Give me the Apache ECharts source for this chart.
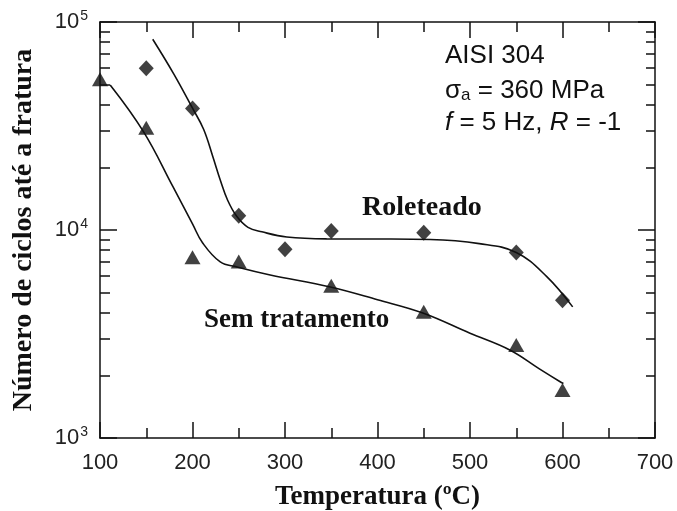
<!DOCTYPE html>
<html>
<head>
<meta charset="utf-8">
<script src="https://cdn.jsdelivr.net/npm/echarts@6/dist/echarts.min.js"></script>
<style>
  html, body { margin: 0; padding: 0; background: #fff; }
  #chart { width: 677px; height: 511px; }
</style>
</head>
<body>
<div id="chart"></div>
<script>
// pontos medidos
const roleteadoX = [150, 200, 250, 300, 350, 450, 550, 600]
const roleteadoY = [60000, 38400, 11700, 8080, 9900, 9700, 7800, 4600]
const semTratX = [100, 150, 200, 250, 350, 450, 550, 600]
const semTratY = [53000, 31000, 7400, 7050, 5400, 4050, 2800, 1700]

// curvas ajustadas
const roleteadoCurveX = [157, 180, 200, 212, 222, 230, 238, 248, 260, 275, 302, 345, 400, 457, 510, 550, 583, 611]
const roleteadoCurveY = [82600, 56000, 38500, 30500, 22500, 17400, 13900, 11600, 10300, 9800, 9250, 9060, 9050, 9000, 8600, 7800, 5970, 4270]
const semTratCurveX = [111, 147, 179, 200, 211, 230, 248, 284, 349, 400, 449, 500, 543, 575, 597, 601]
const semTratCurveY = [49800, 29700, 16100, 10700, 8660, 7020, 6640, 6080, 5320, 4620, 3990, 3190, 2650, 2150, 1870, 1830]

const yMajor = [1000, 10000, 100000]
const yMinor = [2000, 3000, 4000, 5000, 6000, 7000, 8000, 9000,
  20000, 30000, 40000, 50000, 60000, 70000, 80000, 90000]

const zip = (xs, ys) => xs.map((x, i) => [x, ys[i]])

const SANS = '"Liberation Sans", Arial, sans-serif'
const SERIF = '"Liberation Serif", "Times New Roman", serif'
const INK = '#111'

const chart = echarts.init(document.getElementById('chart'))

function xAxisBase(pos) {
  return {
    type: 'value',
    position: pos,
    min: 100,
    max: 700,
    interval: 100,
    axisLine: { show: true, lineStyle: { color: INK, width: 1.5 } },
    axisTick: { show: true, inside: true, length: 16, lineStyle: { color: INK, width: 1.5 } },
    minorTick: { show: true, splitNumber: 2, length: 10, lineStyle: { color: INK, width: 1.5 } },
    splitLine: { show: false },
    minorSplitLine: { show: false },
  }
}

function yAxisBase(pos, values, len, withLine) {
  return {
    type: 'log',
    logBase: 10,
    position: pos,
    min: 1000,
    max: 100000,
    axisLine: { show: withLine, lineStyle: { color: INK, width: 1.5 } },
    axisTick: { show: true, inside: true, length: len, customValues: values, lineStyle: { color: INK, width: 1.5 } },
    axisLabel: { show: false },
    splitLine: { show: false },
  }
}

const yLeft = yAxisBase('left', yMajor, 17, true)
yLeft.axisLabel = {
  show: true,
  customValues: yMajor,
  margin: 12,
  formatter: (v) => '{b|10}{s|' + Math.round(Math.log10(v)) + '}',
  rich: {
    b: { fontFamily: SANS, fontSize: 22, color: '#222' },
    s: { fontFamily: SANS, fontSize: 14, color: '#222', verticalAlign: 'bottom', padding: [0, 0, 12, 1] },
  },
}
yLeft.name = 'Número de ciclos até a fratura'
yLeft.nameLocation = 'middle'
yLeft.nameGap = 62
yLeft.nameTextStyle = { fontFamily: SERIF, fontWeight: 'bold', fontSize: 28, color: INK }

const xBottom = xAxisBase('bottom')
xBottom.axisLabel = { show: true, margin: 14, fontFamily: SANS, fontSize: 22, color: '#222' }
xBottom.name = 'Temperatura (ºC)'
xBottom.nameLocation = 'middle'
xBottom.nameGap = 46
xBottom.nameTextStyle = { fontFamily: SERIF, fontWeight: 'bold', fontSize: 27, color: INK }

const xTop = xAxisBase('top')
xTop.axisLabel = { show: false }

chart.setOption({
  backgroundColor: '#fff',
  animation: false,
  grid: { left: 100, right: 22, top: 22, bottom: 73, outerBoundsMode: 'none' },
  xAxis: [xBottom, xTop],
  yAxis: [
    yLeft,
    yAxisBase('left', yMinor, 10, false),
    yAxisBase('right', yMajor, 17, true),
    yAxisBase('right', yMinor, 9, false),
  ],
  graphic: [
    {
      type: 'text', left: 445, top: 43,
      style: { text: 'AISI 304', font: '26px ' + SANS, fill: INK },
    },
    {
      type: 'text', left: 445, top: 78,
      style: {
        text: '{n|σ}{sub|a}{n| = 360 MPa}',
        rich: {
          n: { fontFamily: SANS, fontSize: 26, fill: INK },
          sub: { fontFamily: SANS, fontSize: 17, fill: INK, verticalAlign: 'bottom' },
        },
      },
    },
    {
      type: 'text', left: 445, top: 110,
      style: {
        text: '{i|f}{n| = 5 Hz, }{i|R}{n| = -1}',
        rich: {
          n: { fontFamily: SANS, fontSize: 26, fill: INK },
          i: { fontFamily: SANS, fontSize: 26, fontStyle: 'italic', fill: INK },
        },
      },
    },
    {
      type: 'text', left: 362, top: 194,
      style: { text: 'Roleteado', font: 'bold 28px ' + SERIF, fill: INK },
    },
    {
      type: 'text', left: 204, top: 307,
      style: { text: 'Sem tratamento', font: 'bold 27px ' + SERIF, fill: INK },
    },
  ],
  series: [
    {
      name: 'Roleteado (curva)',
      type: 'line',
      data: zip(roleteadoCurveX, roleteadoCurveY),
      smooth: 0.4,
      showSymbol: false,
      lineStyle: { color: INK, width: 1.6 },
      z: 2,
    },
    {
      name: 'Sem tratamento (curva)',
      type: 'line',
      data: zip(semTratCurveX, semTratCurveY),
      smooth: 0.4,
      showSymbol: false,
      lineStyle: { color: INK, width: 1.6 },
      z: 2,
    },
    {
      name: 'Roleteado',
      type: 'scatter',
      data: zip(roleteadoX, roleteadoY),
      symbol: 'diamond',
      symbolSize: [15, 16],
      itemStyle: { color: INK },
      z: 3,
    },
    {
      name: 'Sem tratamento',
      type: 'scatter',
      data: zip(semTratX, semTratY),
      symbol: 'triangle',
      symbolSize: [16, 14],
      itemStyle: { color: INK },
      z: 3,
    },
  ],
})
</script>
</body>
</html>
